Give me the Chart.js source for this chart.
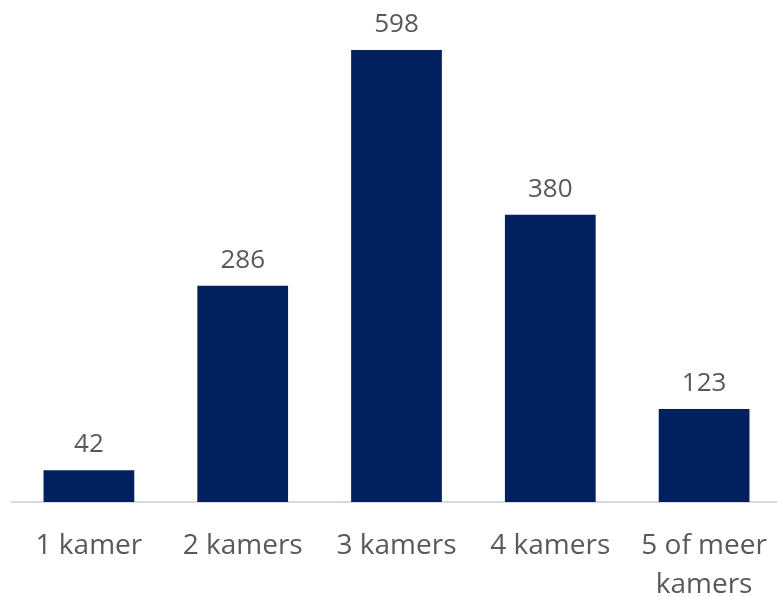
<!DOCTYPE html>
<html><head><meta charset="utf-8">
<script src="https://cdn.jsdelivr.net/npm/chart.js@4/dist/chart.umd.min.js"></script>
<style>
html,body{margin:0;padding:0;overflow:hidden;background:#fff;}
#wrap{width:781px;height:596px;position:relative;}
</style></head>
<body>
<div id="wrap"><canvas id="c"></canvas></div>
<script>
const categories = [["1 kamer"], ["2 kamers"], ["3 kamers"], ["4 kamers"], ["5 of meer", "kamers"]];
const values = [42, 286, 598, 380, 123];

const FONT = "'Open Sans', sans-serif";
const TEXT = '#595959';

const valueLabels = {
  id: 'valueLabels',
  afterDatasetsDraw(chart) {
    const ctx = chart.ctx;
    const meta = chart.getDatasetMeta(0);
    ctx.save();
    ctx.fillStyle = TEXT;
    ctx.font = "26px " + FONT;
    ctx.textAlign = 'center';
    ctx.textBaseline = 'alphabetic';
    meta.data.forEach((bar, i) => {
      ctx.fillText(String(values[i]), bar.x, bar.y - 18);
    });
    ctx.restore();
  }
};

new Chart(document.getElementById('c'), {
  type: 'bar',
  data: {
    labels: categories,
    datasets: [{
      data: values,
      backgroundColor: '#002060',
      barPercentage: 0.59,
      categoryPercentage: 1.0
    }]
  },
  options: {
    responsive: true,
    maintainAspectRatio: false,
    animation: false,
    layout: { padding: { top: 10.6, left: 12, right: 0, bottom: 0 } },
    plugins: { legend: { display: false }, tooltip: { enabled: false } },
    scales: {
      x: {
        grid: { display: false, drawTicks: false },
        border: { display: true, color: '#d9d9d9', width: 2 },
        ticks: {
          color: TEXT,
          font: { family: FONT, size: 28, lineHeight: 1.4 },
          padding: 24,
          maxRotation: 0,
          autoSkip: false
        },
        afterFit(scale) {
          scale.height = 94;
          scale.paddingLeft = 0;
          scale.paddingRight = 0;
        }
      },
      y: {
        display: false,
        min: 0,
        max: 650
      }
    }
  },
  plugins: [valueLabels]
});
</script>
</body></html>
